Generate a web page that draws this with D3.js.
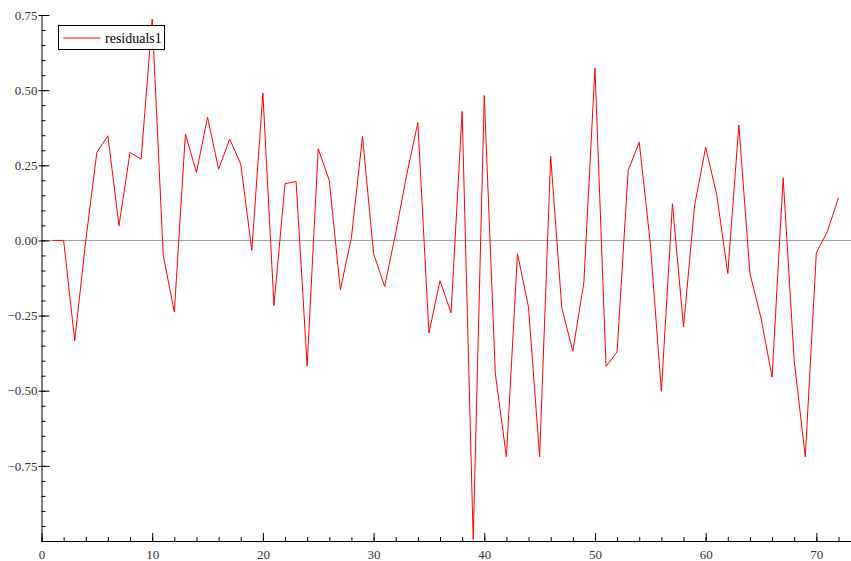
<!DOCTYPE html>
<html>
<head>
<meta charset="utf-8">
<script src="https://cdn.jsdelivr.net/npm/d3@7"></script>
<style>
  html, body { margin: 0; padding: 0; background: #fff; }
  svg { display: block; }
</style>
</head>
<body>
<svg id="chart" width="851" height="561"></svg>
<script>
const seriesName = "residuals1";
const xIndex = d3.range(1, 73);
const residuals = [
  0.00, 0.00, -0.333, 0.00, 0.293, 0.348, 0.049, 0.293, 0.27, 0.736,
  -0.05, -0.238, 0.354, 0.226, 0.41, 0.237, 0.337, 0.254, -0.033, 0.49,
  -0.217, 0.189, 0.196, -0.417, 0.305, 0.199, -0.164, 0.01, 0.346, -0.044,
  -0.153, 0.025, 0.22, 0.392, -0.308, -0.134, -0.241, 0.429, -0.995, 0.482,
  -0.443, -0.72, -0.044, -0.223, -0.72, 0.28, -0.223, -0.369, -0.139, 0.574,
  -0.419, -0.371, 0.233, 0.327, -0.01, -0.502, 0.122, -0.288, 0.116, 0.31,
  0.152, -0.11, 0.384, -0.11, -0.258, -0.455, 0.208, -0.40, -0.72, -0.041,
  0.03, 0.142
];
const xTicks = [0, 10, 20, 30, 40, 50, 60, 70];
const xMinorTicks = d3.range(0, 74, 2);
const yTicks = [-0.75, -0.5, -0.25, 0, 0.25, 0.5, 0.75];
const yMinorTicks = d3.range(-20, 16).map(k => k * 0.05);

(function () {
const svg = d3.select("#chart");
const mLeft = 41.5, mRight = 851, mTop = 15, mBottom = 541;
const serif = "'Liberation Serif', 'DejaVu Serif', serif";

const x = d3.scaleLinear().domain([0, 73.13]).range([mLeft, mRight]);
const y = d3.scaleLinear().domain([-1.0, 0.75]).range([mBottom, mTop]);

// zero line
svg.append("line")
  .attr("x1", mLeft).attr("x2", mRight)
  .attr("y1", Math.round(y(0)) + 0.5).attr("y2", Math.round(y(0)) + 0.5)
  .attr("stroke", "#a0a0a0").attr("stroke-width", 1);

// minor ticks
const xMinor = d3.axisBottom(x).tickValues(xMinorTicks).tickSize(-4).tickFormat("");
svg.append("g").attr("transform", `translate(0,${mBottom})`).call(xMinor)
  .call(g => g.select(".domain").remove())
  .call(g => g.selectAll(".tick line").attr("stroke", "#000"));
const yMinor = d3.axisLeft(y).tickValues(yMinorTicks).tickSize(-4).tickFormat("");
svg.append("g").attr("transform", `translate(${mLeft},0)`).call(yMinor)
  .call(g => g.select(".domain").remove())
  .call(g => g.selectAll(".tick line").attr("stroke", "#000"));

// major axes
const xAxis = d3.axisBottom(x).tickValues(xTicks).tickSize(-8).tickPadding(9).tickFormat(d3.format("d"));
svg.append("g").attr("transform", `translate(0,${mBottom})`).call(xAxis)
  .attr("font-family", serif).attr("font-size", 13)
  .call(g => g.select(".domain").attr("d", `M${mLeft},0.5H${mRight}`).attr("stroke", "#000"))
  .call(g => g.selectAll(".tick line").attr("stroke", "#000"))
  .call(g => g.selectAll(".tick text").attr("fill", "#333").attr("font-family", serif));

const yAxis = d3.axisLeft(y).tickValues(yTicks).tickSizeInner(-8).tickSizeOuter(0).tickPadding(4).tickFormat(d3.format(".2f"));
svg.append("g").attr("transform", `translate(${mLeft},0)`).call(yAxis)
  .attr("font-family", serif).attr("font-size", 13)
  .call(g => g.select(".domain").attr("stroke", "#000"))
  .call(g => g.selectAll(".tick line").attr("stroke", "#000").attr("x1", -3))
  .call(g => g.selectAll(".tick text").attr("fill", "#333").attr("font-family", serif));

// series line
const line = d3.line().x((d, i) => x(xIndex[i])).y(d => y(d));
svg.append("path")
  .datum(residuals)
  .attr("d", line)
  .attr("fill", "none")
  .attr("stroke", "#ff0000")
  .attr("stroke-width", 1);

// legend
const lg = svg.append("g").attr("transform", "translate(58.5,25.5)");
lg.append("rect").attr("width", 106).attr("height", 24)
  .attr("fill", "#fff").attr("stroke", "#000").attr("stroke-width", 1);
lg.append("line").attr("x1", 5).attr("x2", 42).attr("y1", 12.5).attr("y2", 12.5)
  .attr("stroke", "#ff0000").attr("stroke-width", 1);
lg.append("text").attr("x", 46.5).attr("y", 17)
  .attr("font-family", serif)
  .attr("font-size", 14).attr("fill", "#000")
  .text(seriesName);
})();
</script>
</body>
</html>
